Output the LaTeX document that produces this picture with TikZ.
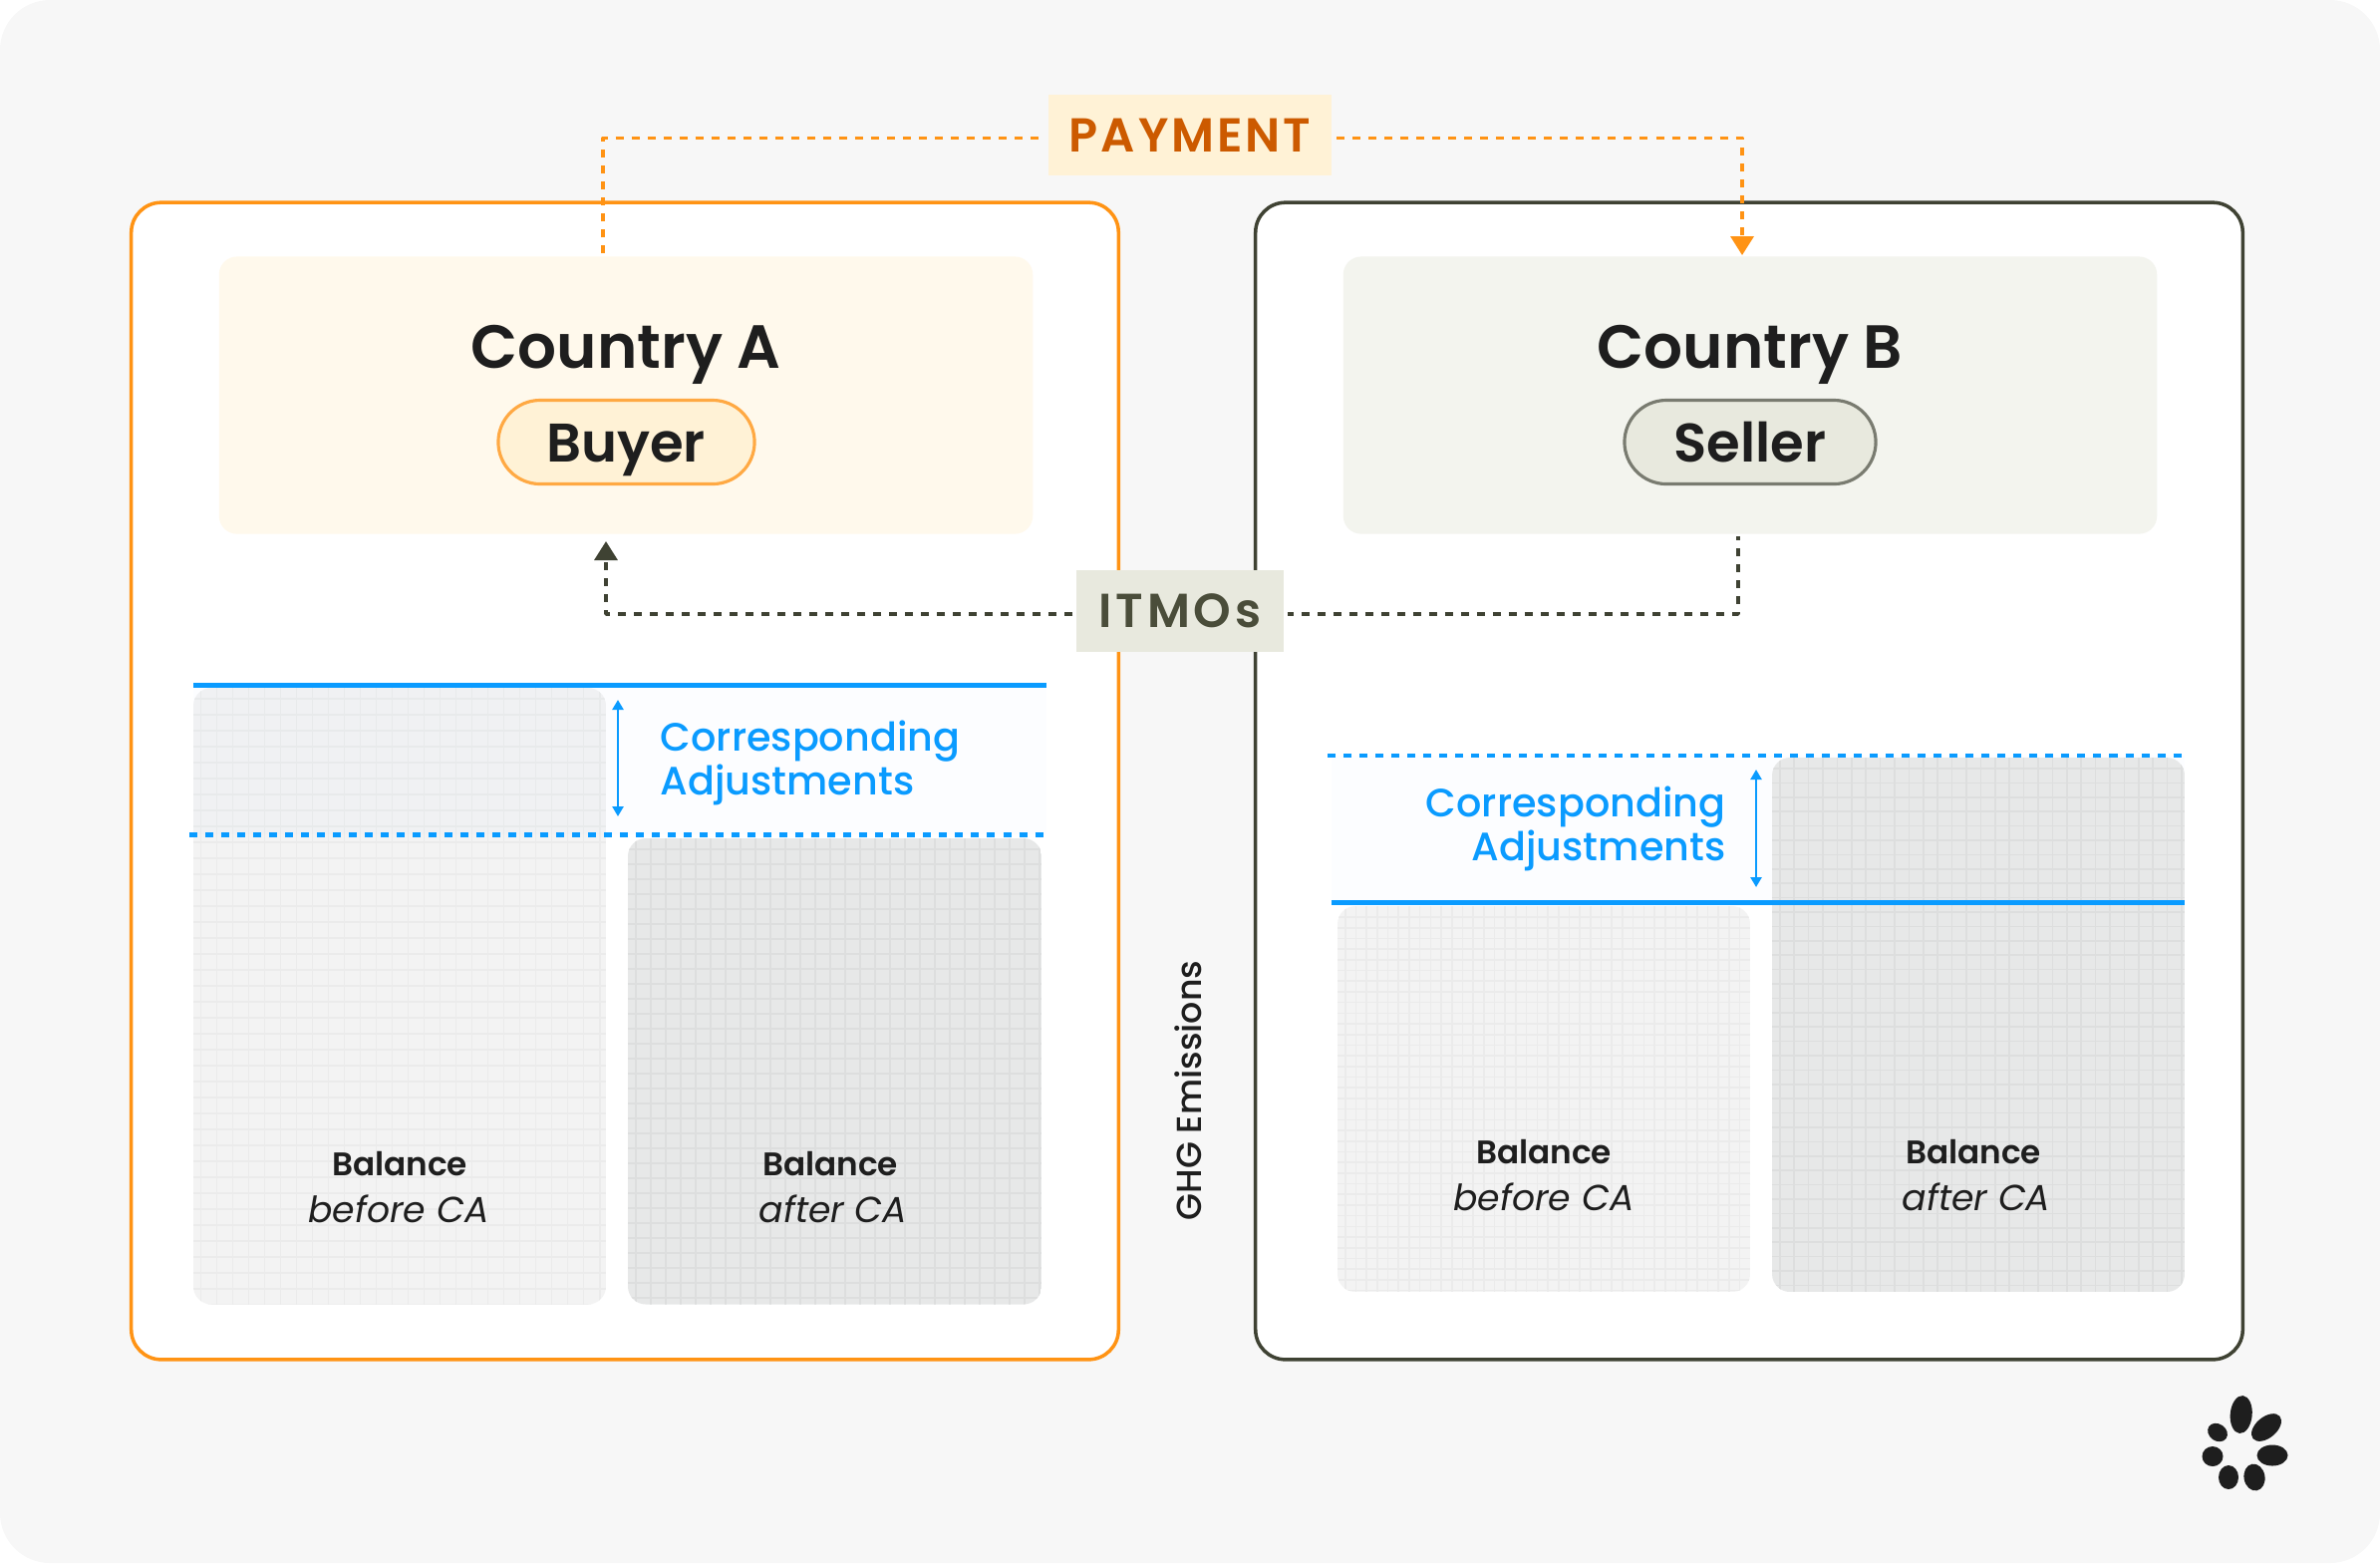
\documentclass[tikz,border=0pt]{standalone}
\usepackage{fontspec}
\setmainfont{Poppins}
\newfontfamily\medfont{Poppins Medium}
\newfontfamily\semifont{Poppins SemiBold}
\usetikzlibrary{arrows.meta,calc}
\definecolor{pagegrey}{HTML}{F7F7F7}
\definecolor{inkblack}{HTML}{1E1E1E}
\definecolor{orangeline}{HTML}{FF9314}
\definecolor{oliveline}{HTML}{3F4233}
\definecolor{olivetext}{HTML}{4A4D3A}
\definecolor{payfill}{HTML}{FFF2D6}
\definecolor{paytext}{HTML}{CC5A00}
\definecolor{itmofill}{HTML}{E8E9DE}
\definecolor{creamfill}{HTML}{FFF9EC}
\definecolor{sagefill}{HTML}{F3F4EE}
\definecolor{caBlue}{HTML}{0A9BFF}
\definecolor{barlight}{HTML}{F3F3F3}
\definecolor{gridlight}{HTML}{EBEBEB}
\definecolor{bardark}{HTML}{E7E8E8}
\definecolor{griddark}{HTML}{DDDEDE}
\newcommand{\gridbar}[7]{%
  \begin{scope}
    \clip[rounded corners=.18cm] (#1,#2) rectangle (#3,#4);
    \fill[#5] (#1,#2) rectangle (#3,#4);
    \foreach \gx in {0,...,40} \draw[#6,line width=.45pt] ({#1+7.7+\gx*#7},#2) -- ({#1+7.7+\gx*#7},#4);
    \foreach \gy in {0,...,60} \draw[#6,line width=.45pt] (#1,{#2+11+\gy*#7}) -- (#3,{#2+11+\gy*#7});
  \end{scope}}
\tikzset{
  panel/.style={draw,fill=white,line width=1pt,rounded corners=.3cm,minimum width=#1,minimum height=11.6cm,inner sep=0pt},
  countrybox/.style={rounded corners=.18cm,minimum width=8.16cm,minimum height=2.78cm,inner sep=0pt},
  pill/.style={draw,line width=.9pt,rounded corners=.42cm,minimum height=.84cm,inner sep=0pt},
  tagbox/.style={inner sep=0pt,minimum height=.815cm},
  flowline/.style={line width=1pt,dash pattern=on .08cm off .08cm},
  caline/.style={caBlue,line width=1.3pt},
  cadash/.style={caline,dash pattern=on .08cm off .08cm},
  catext/.style={text=caBlue,inner sep=0pt,font=\medfont\fontsize{11.3}{13}\selectfont,anchor=base},
  baltext/.style={text=inkblack,anchor=base},
  balbold/.style={baltext,font=\semifont\fontsize{9.3}{11}\selectfont},
  balital/.style={baltext,font=\itshape\fontsize{10.3}{12}\selectfont},
  titletext/.style={text=inkblack,font=\semifont\fontsize{17.4}{20}\selectfont,anchor=base},
  rolet/.style={text=inkblack,font=\semifont\fontsize{15.5}{18}\selectfont,anchor=base}
}
\begin{document}
\begin{tikzpicture}[x=0.01cm,y=-0.01cm,line join=round]
  \useasboundingbox (0,0) rectangle (2388,1568);
  \fill[pagegrey,rounded corners=.5cm] (0,0) rectangle (2388,1568);

  \node[panel=9.9cm,draw=orangeline] (panelA) at (627,783.5) {};
  \node[panel=9.9cm,draw=oliveline] (panelB) at (1755,783.5) {};
  \node[countrybox,fill=creamfill] (countryA) at (628,396.5) {};
  \node[countrybox,fill=sagefill] (countryB) at (1756,396.5) {};

  \fill[caBlue,opacity=.012] (1336,758) rectangle (2192,905);
  \gridbar{194}{690}{608}{1308.5}{barlight}{gridlight}{16}
  \gridbar{630}{841}{1045}{1308.5}{bardark}{griddark}{15}
  \gridbar{1342}{909}{1756}{1296}{barlight}{gridlight}{10.7}
  \gridbar{1778}{760}{2192}{1296}{bardark}{griddark}{14.4}

  \fill[caBlue,opacity=.012] (194,687) rectangle (1050,837);
  \draw[caline] (194,687.5) -- (1050,687.5);
  \draw[cadash] (190,837.5) -- (1050,837.5);
  \draw[cadash] (1332,758) -- (2192,758);
  \draw[caline] (1336,905.5) -- (2192,905.5);
  \draw[caBlue,line width=.7pt,{Triangle[width=.11cm,length=.1cm]}-{Triangle[width=.11cm,length=.1cm]}] (620,702) -- (620,819);
  \draw[caBlue,line width=.7pt,{Triangle[width=.11cm,length=.1cm]}-{Triangle[width=.11cm,length=.1cm]}] (1762,772) -- (1762,890);

  \node[catext,anchor=base west] (corrA) at (662,753.5) {Corresponding};
  \node[catext,anchor=base west] (adjA) at (662,797.5) {Adjustments};
  \node[catext,anchor=base east] (corrB) at (1732,819.5) {Corresponding};
  \node[catext,anchor=base east] (adjB) at (1732,863.5) {Adjustments};

  \node[balbold] (balA1) at (401,1179) {Balance};
  \node[balital] (noteA1) at (400,1226) {before CA};
  \node[balbold] (balA2) at (833,1179) {Balance};
  \node[balital] (noteA2) at (836,1226) {after CA};
  \node[balbold] (balB1) at (1549,1167) {Balance};
  \node[balital] (noteB1) at (1549,1214) {before CA};
  \node[balbold] (balB2) at (1980,1167) {Balance};
  \node[balital] (noteB2) at (1983,1214) {after CA};

  \node[titletext] (titleA) at (628,369) {Country A};
  \node[titletext] (titleB) at (1756,369) {Country B};
  \node[pill,draw=orangeline!80,fill=payfill,minimum width=2.57cm] (buyer) at (628.5,443.5) {};
  \node[pill,draw=oliveline!70,fill=itmofill,minimum width=2.52cm] (seller) at (1756,443.5) {};
  \node[rolet] (buyertext) at (628,463) {Buyer};
  \node[rolet] (sellertext) at (1756,463) {Seller};

  \node[tagbox,fill=payfill,minimum width=2.83cm,text=paytext,font=\semifont\fontsize{13.6}{16}\selectfont\addfontfeature{LetterSpace=6}] (payment) at (1194,135.5) {\raisebox{-.5pt}{PAYMENT}};
  \node[tagbox,fill=itmofill,minimum width=2.08cm,text=olivetext,font=\semifont\fontsize{13.6}{16}\selectfont\addfontfeature{LetterSpace=8}] (itmos) at (1184,613) {\raisebox{-.8pt}{ITMOs}};

  \coordinate (payA) at (605,257);
  \coordinate (payB) at (1748,256);
  \coordinate (itmoA) at (608,543);
  \coordinate (itmoB) at (1744,538);
  \draw[flowline,dash phase=.13cm,orangeline] (payA) |- ([shift={(-7,3)}]payment.west);
  \draw[flowline,orangeline,-{Triangle[width=.23cm,length=.19cm]}] ([shift={(5,3)}]payment.east) -| (payB);
  \draw[flowline,oliveline,-{Triangle[width=.23cm,length=.19cm]}] ([shift={(-3,3)}]itmos.west) -| (itmoA);
  \draw[flowline,dash phase=.02cm,oliveline] ([shift={(3,3)}]itmos.east) -| (itmoB);

  \node[text=inkblack,font=\medfont\fontsize{9.9}{12}\selectfont,rotate=90] (ghg) at (1192,1094) {GHG Emissions};

  \fill[inkblack,shift={(2248.7,1419)},rotate=-5] (0,0) ellipse [x radius=11,y radius=19];
  \fill[inkblack,shift={(2274,1432)},rotate=40] (0,0) ellipse [x radius=17.5,y radius=10.5];
  \fill[inkblack,shift={(2280,1460)}] (0,0) ellipse [x radius=15.5,y radius=10.5];
  \fill[inkblack,shift={(2262,1482)},rotate=10] (0,0) ellipse [x radius=10.5,y radius=13.5];
  \fill[inkblack,shift={(2236,1482)}] (0,0) ellipse [x radius=10,y radius=12];
  \fill[inkblack,shift={(2220,1461)}] (0,0) ellipse [x radius=10.5,y radius=10];
  \fill[inkblack,shift={(2225,1437)},rotate=-35] (0,0) ellipse [x radius=10.5,y radius=8.5];
\end{tikzpicture}
\end{document}
